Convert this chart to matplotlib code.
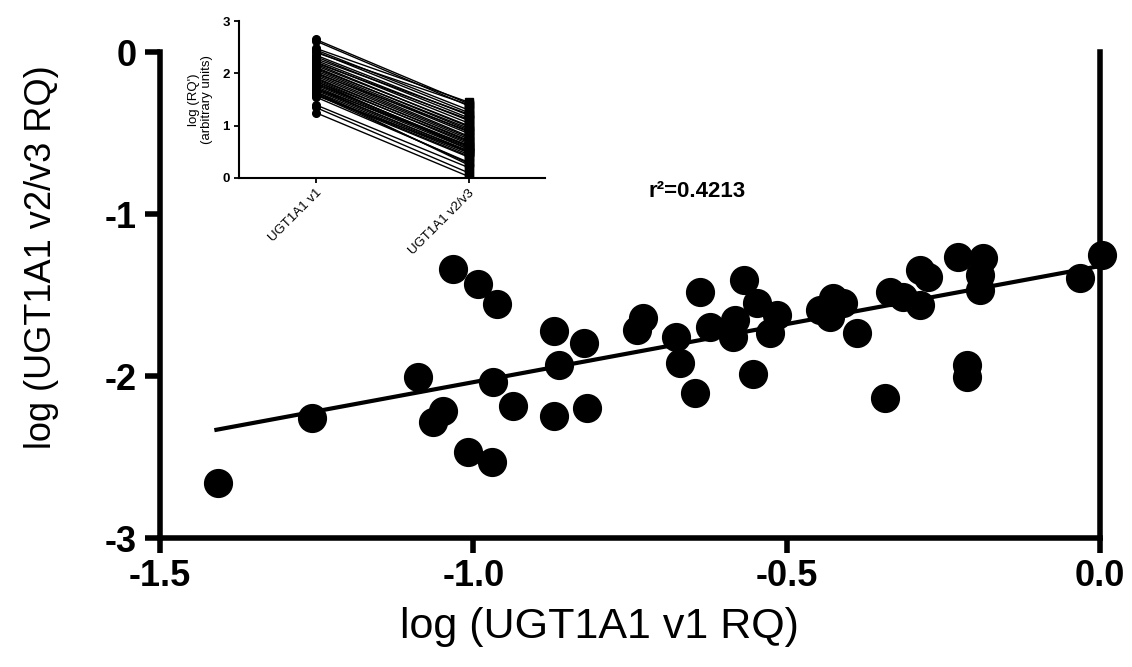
import numpy as np
import matplotlib
matplotlib.use("Agg")
import matplotlib.pyplot as plt

plt.rcParams["font.family"] = ["Liberation Sans", "DejaVu Sans"]
plt.rcParams["axes.unicode_minus"] = False

# main scatter: log(v1 RQ) vs log(v2/v3 RQ)
v1_log = [-1.407, -1.258, -1.033, -0.993, -0.963, -1.088, -0.968, -1.048, -1.064, -0.937,
          -0.872, -0.818, -1.008, -0.971, -0.872, -0.823, -0.864, -0.729, -0.739, -0.676,
          -0.670, -0.646, -0.638, -0.622, -0.583, -0.585, -0.568, -0.548, -0.516, -0.527,
          -0.553, -0.447, -0.426, -0.410, -0.431, -0.388, -0.343, -0.335, -0.314, -0.287,
          -0.287, -0.274, -0.226, -0.186, -0.192, -0.192, -0.213, -0.213, -0.032, 0.003]
v23_log = [-2.662, -2.261, -1.341, -1.434, -1.556, -2.004, -2.035, -2.214, -2.282, -2.183,
           -2.245, -2.199, -2.467, -2.529, -1.720, -1.794, -1.932, -1.644, -1.716, -1.757,
           -1.922, -2.107, -1.480, -1.696, -1.654, -1.757, -1.407, -1.551, -1.623, -1.736,
           -1.988, -1.593, -1.520, -1.551, -1.634, -1.736, -2.138, -1.480, -1.510, -1.562,
           -1.346, -1.387, -1.264, -1.273, -1.377, -1.469, -1.932, -2.004, -1.397, -1.253]

# regression line
fit_slope = 0.717
fit_intercept = -1.321
fit_x = [-1.41, 0.0]
r2_text = "r\u00b2=0.4213"

# inset: paired log(RQ') values
inset_groups = ["UGT1A1 v1", "UGT1A1 v2/v3"]
inset_v1 = [2.65, 2.62, 2.48, 2.45, 2.42, 2.40, 2.35, 2.32, 2.28, 2.25, 2.22, 2.20, 2.18, 2.15, 2.12,
            2.10, 2.08, 2.05, 2.02, 2.00, 1.98, 1.95, 1.92, 1.90, 1.88, 1.85, 1.82, 1.80, 1.78, 1.75,
            1.72, 1.70, 1.68, 1.65, 1.62, 1.60, 1.58, 1.55, 1.60, 1.65, 1.72, 1.85, 1.40, 1.35, 1.25]
inset_v23 = [1.42, 1.38, 1.45, 1.30, 1.25, 1.40, 1.20, 1.15, 1.22, 1.10, 1.05, 1.12, 0.98, 1.00, 0.92,
             0.95, 0.88, 0.85, 0.80, 0.90, 0.78, 0.75, 0.70, 0.72, 0.65, 0.68, 0.60, 0.62, 0.58, 0.55,
             0.50, 0.52, 0.48, 0.45, 0.42, 0.40, 0.50, 0.30, 0.28, 0.25, 0.62, 0.55, 0.20, 0.10, 0.03]

fig = plt.figure(figsize=(11.32, 6.67), dpi=100)
ax = fig.add_axes([160 / 1132, 129 / 667, 940 / 1132, 486 / 667])

ax.scatter(v1_log, v23_log, s=400, color="black", zorder=3, clip_on=False)
fx = np.array(fit_x)
ax.plot(fx, fit_slope * fx + fit_intercept, color="black", lw=3, zorder=2)

ax.set_xlim(-1.5, 0.0)
ax.set_ylim(-3, 0)
ax.set_xticks([-1.5, -1.0, -0.5, 0.0])
ax.set_xticklabels(["-1.5", "-1.0", "-0.5", "0.0"])
ax.set_yticks([-3, -2, -1, 0])
ax.set_yticklabels(["-3", "-2", "-1", "0"])
for s in ["left", "bottom", "right"]:
    ax.spines[s].set_linewidth(4)
ax.spines["top"].set_visible(False)
ax.tick_params(axis="both", length=11, width=4, pad=6, labelsize=26)
ax.tick_params(axis="x", pad=4)
ax.tick_params(right=False)
for lab in ax.get_xticklabels() + ax.get_yticklabels():
    lab.set_fontweight("bold")

ax.set_xlabel("log (UGT1A1 v1 RQ)", fontsize=31)
ax.xaxis.set_label_coords(0.468, -0.183)
ax.set_ylabel("log (UGT1A1 v2/v3 RQ)", fontsize=26)
ax.yaxis.set_label_coords(-0.126, 0.578)
ax.xaxis.label.set_va("center")
ax.yaxis.label.set_va("center")

ax.text(-0.643, -0.864, r2_text, fontsize=16, fontweight="bold", ha="center", va="center")

# inset paired plot
ins = fig.add_axes([239 / 1132, 489 / 667, 306 / 1132, 157 / 667])
for a, b in zip(inset_v1, inset_v23):
    ins.plot([0, 1], [a, b], color="black", lw=1.0)
ins.plot([0] * len(inset_v1), inset_v1, "o", color="black", ms=5.5, ls="none")
ins.plot([1] * len(inset_v23), inset_v23, "s", color="black", ms=5.5, ls="none")
ins.set_xlim(-0.5, 1.5)
ins.set_ylim(0, 3)
ins.set_yticks([0, 1, 2, 3])
ins.set_xticks([0, 1])
ins.set_xticklabels(inset_groups, rotation=45, ha="right", rotation_mode="anchor")
ins.spines["top"].set_visible(False)
ins.spines["right"].set_visible(False)
ins.spines["left"].set_linewidth(1.5)
ins.spines["bottom"].set_linewidth(1.5)
ins.tick_params(axis="both", length=3.5, width=1.3, pad=3)
for lab in ins.get_yticklabels():
    lab.set_fontweight("bold")
    lab.set_fontsize(9.5)
for lab in ins.get_xticklabels():
    lab.set_fontsize(9.5)
ins.set_ylabel("log (RQ')\n(arbitrary units)", fontsize=9.5, linespacing=1.1, labelpad=7)
ins.patch.set_alpha(0)

fig.savefig("out.png", dpi=100)
